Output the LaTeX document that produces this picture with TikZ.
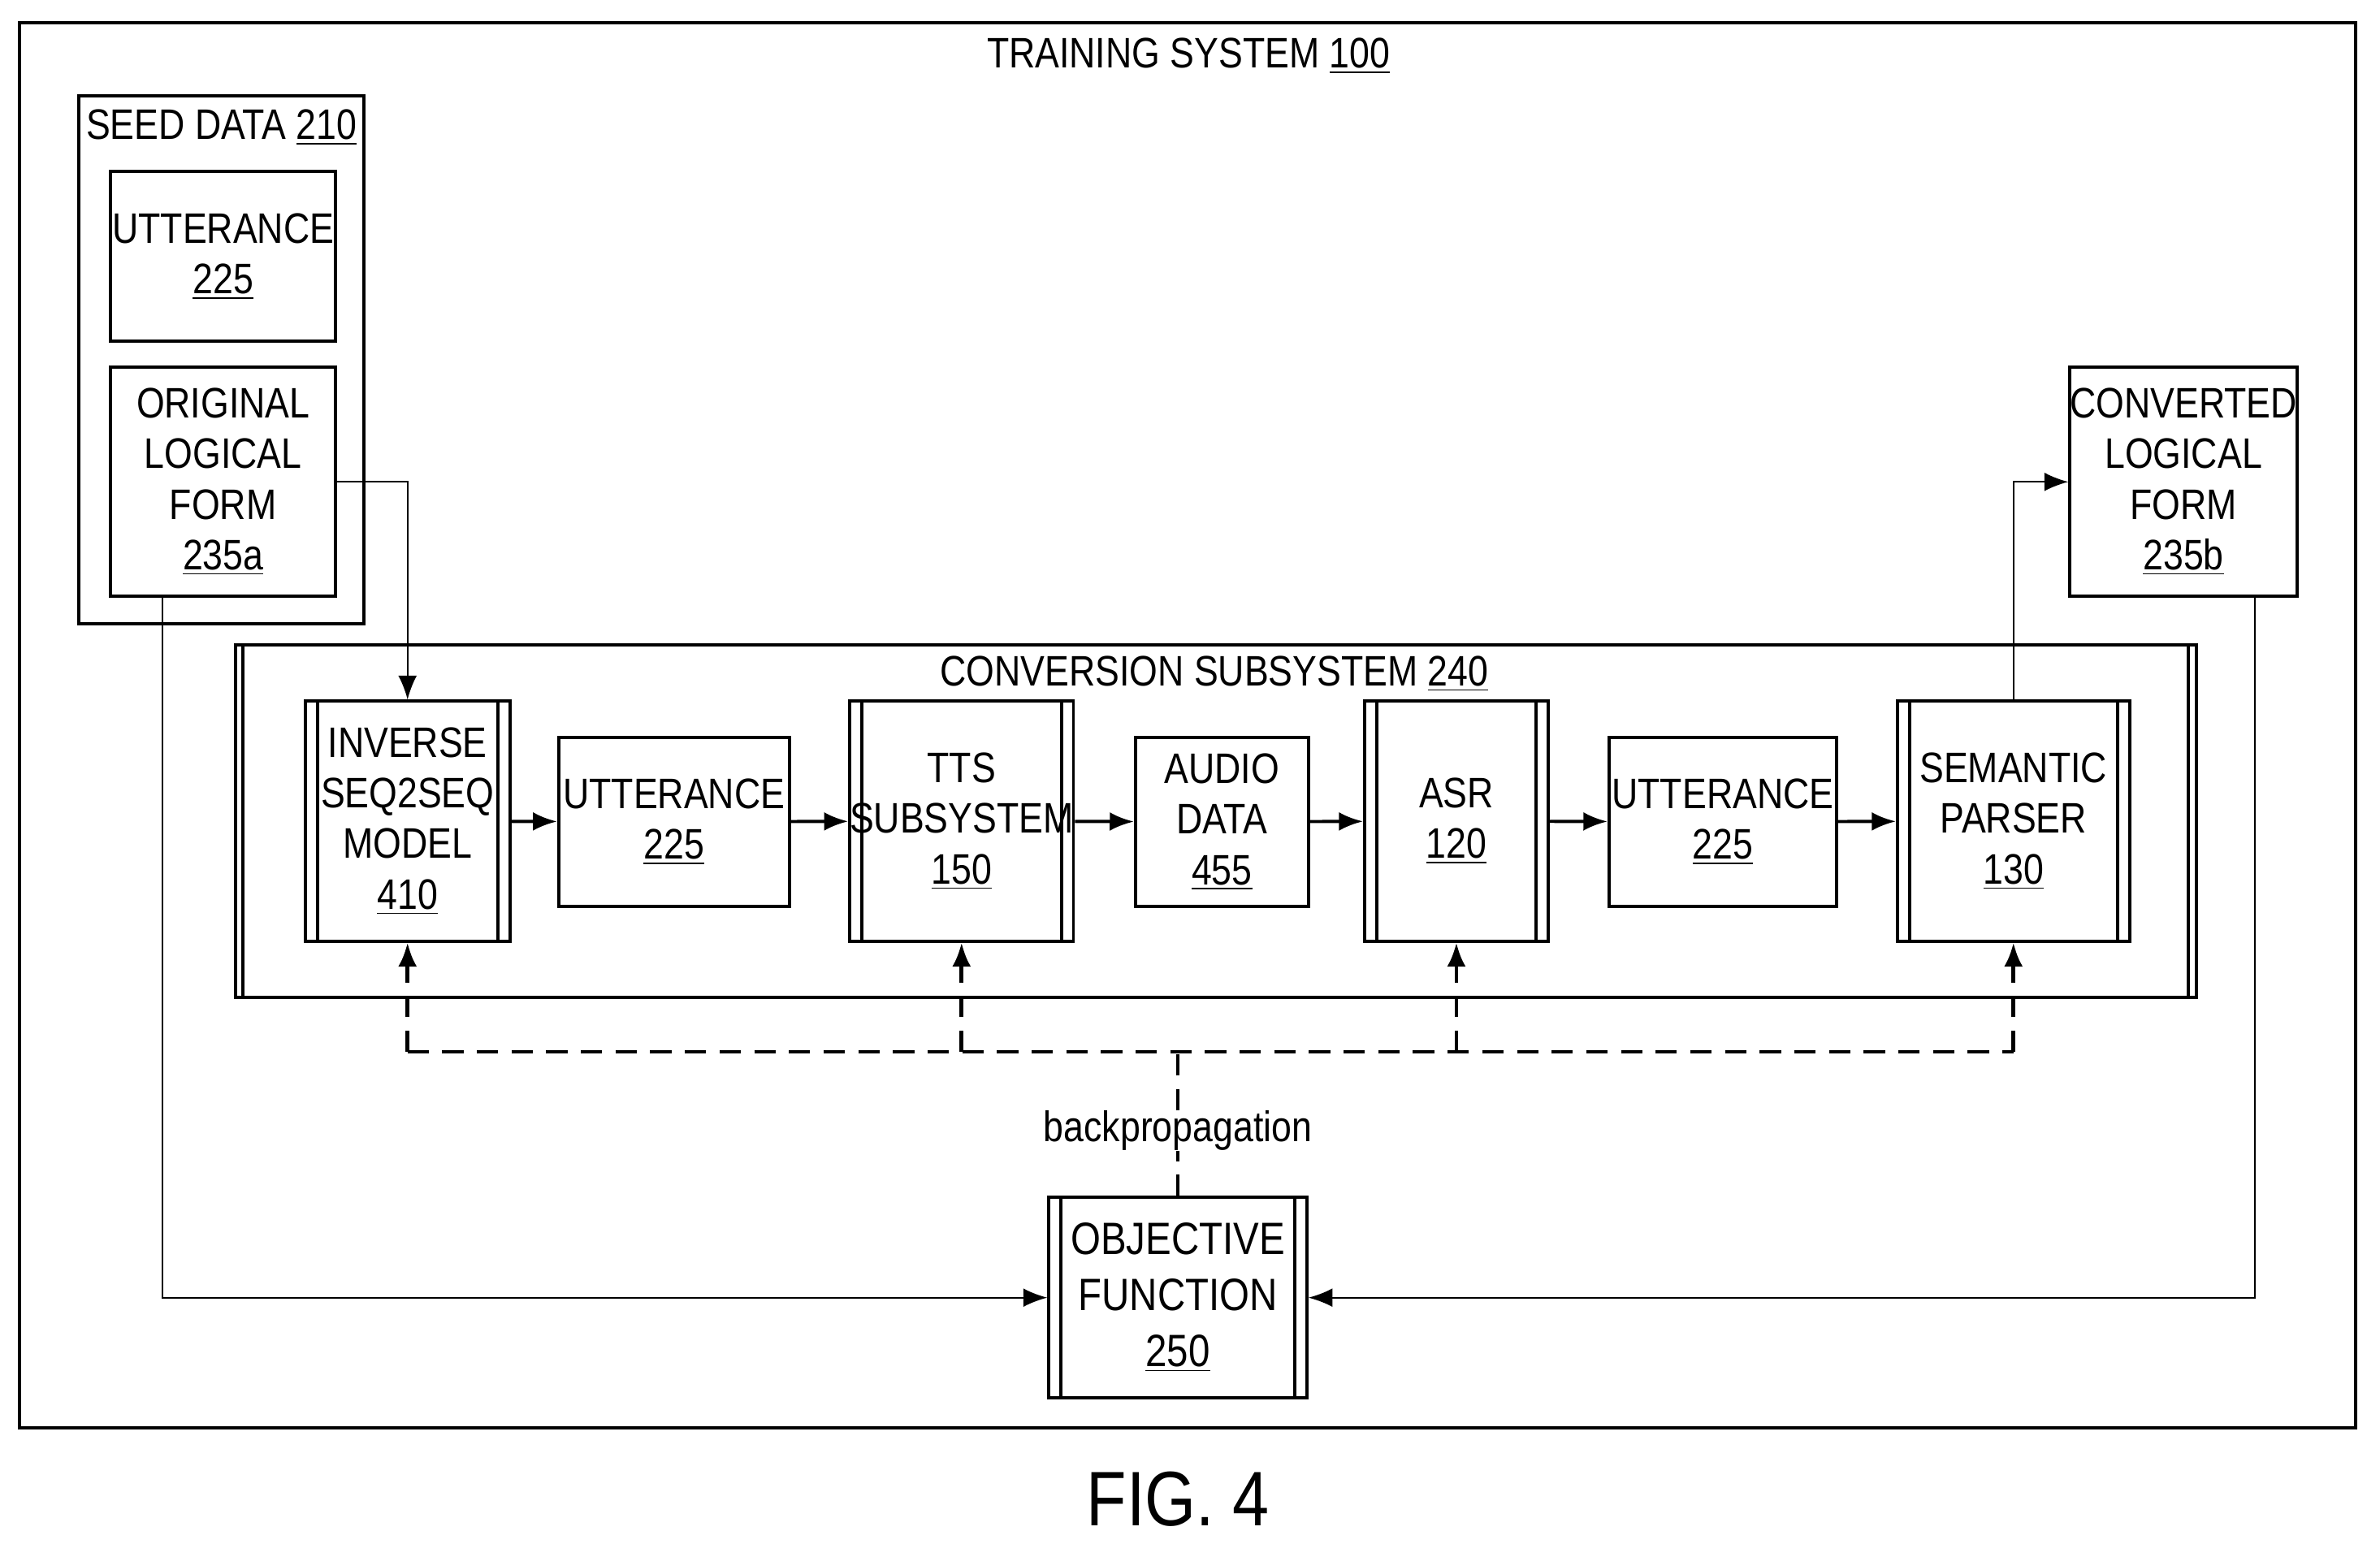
\documentclass[tikz,border=0pt]{standalone}
\usepackage{fontspec}
\setmainfont{Liberation Sans}[FakeStretch=0.85]
\usetikzlibrary{arrows.meta,positioning}
\tikzset{
  box/.style={draw,line width=1.2pt,align=center,inner sep=0pt,
    font=\fontsize{16}{19}\selectfont},
  proc/.style={box,path picture={
      \draw[line width=1.2pt] ([xshift=#1]path picture bounding box.south west) -- ([xshift=#1]path picture bounding box.north west);
      \draw[line width=1.2pt] ([xshift=-#1]path picture bounding box.south east) -- ([xshift=-#1]path picture bounding box.north east);}},
  proc/.default=0.16cm,
  flow/.style={-{Latex[length=9pt,width=7pt]},line width=1.2pt},
  feed/.style={-{Latex[length=9pt,width=7pt]},line width=0.6pt},
  back/.style={line width=1.4pt,dash pattern=on 8pt off 5pt},
  lbl/.style={inner sep=0pt,font=\fontsize{16}{19}\selectfont},
}
\begin{document}
\begin{tikzpicture}[x=0.02cm,y=-0.02cm]
  \useasboundingbox (0,0) rectangle (1568,1017);
  \draw[line width=1.2pt] (13,15) rectangle (1552,941);
  \node[lbl] (title) at (783,37) {TRAINING SYSTEM \underline{100}};

  % seed data
  \node[box,minimum width=3.76cm,minimum height=6.96cm] (seed) at (146,237) {};
  \node[lbl] (seedl) at (146,84) {SEED DATA \underline{210}};
  \node[box,minimum width=2.96cm,minimum height=2.24cm] (uttA) at (147,169) {UTTERANCE\\\underline{225}};
  \node[box,minimum width=2.96cm,minimum height=3.02cm] (olf) at (147,317.5) {ORIGINAL\\LOGICAL\\FORM\\\underline{235a}};
  \node[box,minimum width=2.94cm,minimum height=3.02cm] (clf) at (1438.5,317.5) {CONVERTED\\LOGICAL\\FORM\\\underline{235b}};

  % conversion subsystem
  \node[proc=0.1cm,minimum width=25.84cm,minimum height=4.64cm] (conv) at (801,541) {};
  \node[lbl] (convl) at (800,444) {CONVERSION SUBSYSTEM \underline{240}};
  \node[proc,minimum width=2.7cm,minimum height=3.16cm] (inv) at (268.5,541) {INVERSE\\SEQ2SEQ\\MODEL\\\underline{410}};
  \node[box,minimum width=3.04cm,minimum height=2.22cm] (uttB) at (444,541.5) {UTTERANCE\\\underline{225}};
  \node[proc,minimum width=2.94cm,minimum height=3.16cm] (tts) at (633.5,541) {TTS\\SUBSYSTEM\\\underline{150}};
  \node[box,minimum width=2.28cm,minimum height=2.22cm] (audio) at (805,541.5) {AUDIO\\DATA\\\underline{455}};
  \node[proc,minimum width=2.42cm,minimum height=3.16cm] (asr) at (959.5,541) {ASR\\\underline{120}};
  \node[box,minimum width=3.0cm,minimum height=2.22cm] (uttC) at (1135,541.5) {UTTERANCE\\\underline{225}};
  \node[proc,minimum width=3.06cm,minimum height=3.16cm] (sem) at (1326.5,541) {SEMANTIC\\PARSER\\\underline{130}};

  \node[proc,minimum width=3.4cm,minimum height=2.64cm,font=\fontsize{17}{21}\selectfont] (obj) at (776,855) {OBJECTIVE\\FUNCTION\\\underline{250}};

  \draw[flow] (inv) -- (uttB);
  \draw[flow] (uttB) -- (tts);
  \draw[flow] (tts) -- (audio);
  \draw[flow] (audio) -- (asr);
  \draw[flow] (asr) -- (uttC);
  \draw[flow] (uttC) -- (sem);

  \draw[feed] (olf.east) -| (inv.north);
  \draw[feed] (sem.north) |- (clf.west);
  \draw[feed] ([xshift=-0.8cm]olf.south) |- (obj.west);
  \draw[feed] ([xshift=0.94cm]clf.south) |- (obj.east);

  % backpropagation
  \coordinate (bp) at (776,693);
  \node[lbl,fill=white] (bpl) at (776,745) {backpropagation};
  \draw[back] (inv.south |- bp) -- (sem.south |- bp);
  \foreach \n in {inv,tts,asr,sem}
    \draw[back,-{Latex[length=9pt,width=7pt]}] (\n.south |- bp) -- (\n.south);
  \draw[back] (obj.north) -- (bpl.south);
  \draw[back] (bpl.north) -- (bp);

  \node[inner sep=0pt,font=\fontsize{29}{32}\selectfont] (fig) at (776,988) {FIG. 4};
\end{tikzpicture}
\end{document}
